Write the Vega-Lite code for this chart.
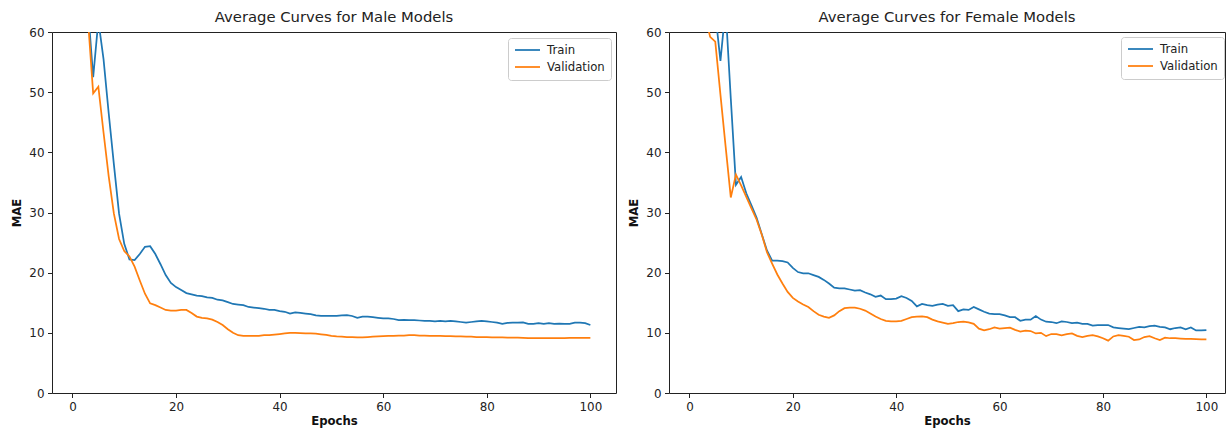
{
 "$schema": "https://vega.github.io/schema/vega-lite/v6.json",
 "background": "white",
 "padding": {"left": 11, "top": 9, "right": 0, "bottom": 0},
 "spacing": 11,
 "config": {
  "font": "DejaVu Sans",
  "view": {"stroke": "#222", "strokeWidth": 1},
  "axis": {"grid": false, "domain": false, "tickColor": "#222", "tickSize": 4.5, "tickWidth": 1, "labelFontSize": 11.9, "labelColor": "#222", "labelPadding": 3.5, "labelFlush": false, "labelOverlap": false, "titleFontSize": 11.7, "titleFontWeight": "bold", "titleColor": "#111"},
  "axisY": {"titlePadding": 6},
  "axisX": {"titlePadding": 4},
  "title": {"fontSize": 14.8, "fontWeight": "normal", "color": "#222", "offset": 1, "anchor": "middle"},
  "legend": {"title": null, "strokeColor": "#ccc", "fillColor": "white", "cornerRadius": 3, "padding": 6, "rowPadding": 4, "labelFontSize": 11.7, "labelColor": "#222", "symbolType": "M-1,0H4", "symbolStrokeWidth": 1.75, "symbolSize": 100, "labelOffset": 21}
 },
 "datasets": {
  "male": [
   {"series":"Train","epoch":1,"mae":95},{"series":"Train","epoch":2,"mae":75},{"series":"Train","epoch":3,"mae":64},{"series":"Train","epoch":4,"mae":52.5},{"series":"Train","epoch":5,"mae":61.9},{"series":"Train","epoch":6,"mae":55.5},{"series":"Train","epoch":7,"mae":46.5},{"series":"Train","epoch":8,"mae":38},{"series":"Train","epoch":9,"mae":29.8},{"series":"Train","epoch":10,"mae":24.8},
   {"series":"Train","epoch":11,"mae":22.2},{"series":"Train","epoch":12,"mae":22.1},{"series":"Train","epoch":13,"mae":23.1},{"series":"Train","epoch":14,"mae":24.3},{"series":"Train","epoch":15,"mae":24.4},{"series":"Train","epoch":16,"mae":23.1},{"series":"Train","epoch":17,"mae":21.4},{"series":"Train","epoch":18,"mae":19.6},{"series":"Train","epoch":19,"mae":18.3},{"series":"Train","epoch":20,"mae":17.6},
   {"series":"Train","epoch":21,"mae":17.1},{"series":"Train","epoch":22,"mae":16.6},{"series":"Train","epoch":23,"mae":16.4},{"series":"Train","epoch":24,"mae":16.2},{"series":"Train","epoch":25,"mae":16.1},{"series":"Train","epoch":26,"mae":15.9},{"series":"Train","epoch":27,"mae":15.8},{"series":"Train","epoch":28,"mae":15.5},{"series":"Train","epoch":29,"mae":15.4},{"series":"Train","epoch":30,"mae":15.1},
   {"series":"Train","epoch":31,"mae":14.8},{"series":"Train","epoch":32,"mae":14.7},{"series":"Train","epoch":33,"mae":14.6},{"series":"Train","epoch":34,"mae":14.3},{"series":"Train","epoch":35,"mae":14.2},{"series":"Train","epoch":36,"mae":14.1},{"series":"Train","epoch":37,"mae":14.0},{"series":"Train","epoch":38,"mae":13.8},{"series":"Train","epoch":39,"mae":13.8},{"series":"Train","epoch":40,"mae":13.6},
   {"series":"Train","epoch":41,"mae":13.5},{"series":"Train","epoch":42,"mae":13.2},{"series":"Train","epoch":43,"mae":13.4},{"series":"Train","epoch":44,"mae":13.3},{"series":"Train","epoch":45,"mae":13.2},{"series":"Train","epoch":46,"mae":13.1},{"series":"Train","epoch":47,"mae":12.9},{"series":"Train","epoch":48,"mae":12.8},{"series":"Train","epoch":49,"mae":12.8},{"series":"Train","epoch":50,"mae":12.8},
   {"series":"Train","epoch":51,"mae":12.8},{"series":"Train","epoch":52,"mae":12.9},{"series":"Train","epoch":53,"mae":12.95},{"series":"Train","epoch":54,"mae":12.8},{"series":"Train","epoch":55,"mae":12.5},{"series":"Train","epoch":56,"mae":12.7},{"series":"Train","epoch":57,"mae":12.7},{"series":"Train","epoch":58,"mae":12.6},{"series":"Train","epoch":59,"mae":12.5},{"series":"Train","epoch":60,"mae":12.4},
   {"series":"Train","epoch":61,"mae":12.4},{"series":"Train","epoch":62,"mae":12.3},{"series":"Train","epoch":63,"mae":12.1},{"series":"Train","epoch":64,"mae":12.15},{"series":"Train","epoch":65,"mae":12.1},{"series":"Train","epoch":66,"mae":12.1},{"series":"Train","epoch":67,"mae":12.05},{"series":"Train","epoch":68,"mae":12.0},{"series":"Train","epoch":69,"mae":12.0},{"series":"Train","epoch":70,"mae":11.9},
   {"series":"Train","epoch":71,"mae":12.0},{"series":"Train","epoch":72,"mae":11.9},{"series":"Train","epoch":73,"mae":12.0},{"series":"Train","epoch":74,"mae":11.9},{"series":"Train","epoch":75,"mae":11.8},{"series":"Train","epoch":76,"mae":11.7},{"series":"Train","epoch":77,"mae":11.8},{"series":"Train","epoch":78,"mae":11.9},{"series":"Train","epoch":79,"mae":12.0},{"series":"Train","epoch":80,"mae":11.9},
   {"series":"Train","epoch":81,"mae":11.8},{"series":"Train","epoch":82,"mae":11.7},{"series":"Train","epoch":83,"mae":11.5},{"series":"Train","epoch":84,"mae":11.65},{"series":"Train","epoch":85,"mae":11.7},{"series":"Train","epoch":86,"mae":11.7},{"series":"Train","epoch":87,"mae":11.75},{"series":"Train","epoch":88,"mae":11.5},{"series":"Train","epoch":89,"mae":11.5},{"series":"Train","epoch":90,"mae":11.6},
   {"series":"Train","epoch":91,"mae":11.5},{"series":"Train","epoch":92,"mae":11.6},{"series":"Train","epoch":93,"mae":11.5},{"series":"Train","epoch":94,"mae":11.55},{"series":"Train","epoch":95,"mae":11.5},{"series":"Train","epoch":96,"mae":11.5},{"series":"Train","epoch":97,"mae":11.7},{"series":"Train","epoch":98,"mae":11.7},{"series":"Train","epoch":99,"mae":11.6},{"series":"Train","epoch":100,"mae":11.3},
   {"series":"Validation","epoch":1,"mae":90},{"series":"Validation","epoch":2,"mae":70},{"series":"Validation","epoch":3,"mae":62},{"series":"Validation","epoch":4,"mae":49.8},{"series":"Validation","epoch":5,"mae":50.9},{"series":"Validation","epoch":6,"mae":43.3},{"series":"Validation","epoch":7,"mae":36},{"series":"Validation","epoch":8,"mae":29.8},{"series":"Validation","epoch":9,"mae":25.6},{"series":"Validation","epoch":10,"mae":23.6},
   {"series":"Validation","epoch":11,"mae":22.7},{"series":"Validation","epoch":12,"mae":21.0},{"series":"Validation","epoch":13,"mae":18.7},{"series":"Validation","epoch":14,"mae":16.5},{"series":"Validation","epoch":15,"mae":14.9},{"series":"Validation","epoch":16,"mae":14.6},{"series":"Validation","epoch":17,"mae":14.2},{"series":"Validation","epoch":18,"mae":13.8},{"series":"Validation","epoch":19,"mae":13.7},{"series":"Validation","epoch":20,"mae":13.7},
   {"series":"Validation","epoch":21,"mae":13.8},{"series":"Validation","epoch":22,"mae":13.8},{"series":"Validation","epoch":23,"mae":13.3},{"series":"Validation","epoch":24,"mae":12.7},{"series":"Validation","epoch":25,"mae":12.5},{"series":"Validation","epoch":26,"mae":12.4},{"series":"Validation","epoch":27,"mae":12.2},{"series":"Validation","epoch":28,"mae":11.8},{"series":"Validation","epoch":29,"mae":11.3},{"series":"Validation","epoch":30,"mae":10.6},
   {"series":"Validation","epoch":31,"mae":10.0},{"series":"Validation","epoch":32,"mae":9.6},{"series":"Validation","epoch":33,"mae":9.5},{"series":"Validation","epoch":34,"mae":9.5},{"series":"Validation","epoch":35,"mae":9.5},{"series":"Validation","epoch":36,"mae":9.5},{"series":"Validation","epoch":37,"mae":9.6},{"series":"Validation","epoch":38,"mae":9.6},{"series":"Validation","epoch":39,"mae":9.7},{"series":"Validation","epoch":40,"mae":9.8},
   {"series":"Validation","epoch":41,"mae":9.9},{"series":"Validation","epoch":42,"mae":10.0},{"series":"Validation","epoch":43,"mae":10.0},{"series":"Validation","epoch":44,"mae":9.95},{"series":"Validation","epoch":45,"mae":9.9},{"series":"Validation","epoch":46,"mae":9.9},{"series":"Validation","epoch":47,"mae":9.85},{"series":"Validation","epoch":48,"mae":9.75},{"series":"Validation","epoch":49,"mae":9.65},{"series":"Validation","epoch":50,"mae":9.5},
   {"series":"Validation","epoch":51,"mae":9.4},{"series":"Validation","epoch":52,"mae":9.35},{"series":"Validation","epoch":53,"mae":9.3},{"series":"Validation","epoch":54,"mae":9.3},{"series":"Validation","epoch":55,"mae":9.25},{"series":"Validation","epoch":56,"mae":9.25},{"series":"Validation","epoch":57,"mae":9.3},{"series":"Validation","epoch":58,"mae":9.35},{"series":"Validation","epoch":59,"mae":9.4},{"series":"Validation","epoch":60,"mae":9.45},
   {"series":"Validation","epoch":61,"mae":9.5},{"series":"Validation","epoch":62,"mae":9.5},{"series":"Validation","epoch":63,"mae":9.55},{"series":"Validation","epoch":64,"mae":9.55},{"series":"Validation","epoch":65,"mae":9.6},{"series":"Validation","epoch":66,"mae":9.6},{"series":"Validation","epoch":67,"mae":9.55},{"series":"Validation","epoch":68,"mae":9.55},{"series":"Validation","epoch":69,"mae":9.5},{"series":"Validation","epoch":70,"mae":9.5},
   {"series":"Validation","epoch":71,"mae":9.5},{"series":"Validation","epoch":72,"mae":9.45},{"series":"Validation","epoch":73,"mae":9.45},{"series":"Validation","epoch":74,"mae":9.4},{"series":"Validation","epoch":75,"mae":9.4},{"series":"Validation","epoch":76,"mae":9.35},{"series":"Validation","epoch":77,"mae":9.35},{"series":"Validation","epoch":78,"mae":9.3},{"series":"Validation","epoch":79,"mae":9.3},{"series":"Validation","epoch":80,"mae":9.3},
   {"series":"Validation","epoch":81,"mae":9.25},{"series":"Validation","epoch":82,"mae":9.25},{"series":"Validation","epoch":83,"mae":9.25},{"series":"Validation","epoch":84,"mae":9.2},{"series":"Validation","epoch":85,"mae":9.2},{"series":"Validation","epoch":86,"mae":9.2},{"series":"Validation","epoch":87,"mae":9.15},{"series":"Validation","epoch":88,"mae":9.1},{"series":"Validation","epoch":89,"mae":9.1},{"series":"Validation","epoch":90,"mae":9.1},
   {"series":"Validation","epoch":91,"mae":9.1},{"series":"Validation","epoch":92,"mae":9.1},{"series":"Validation","epoch":93,"mae":9.1},{"series":"Validation","epoch":94,"mae":9.1},{"series":"Validation","epoch":95,"mae":9.1},{"series":"Validation","epoch":96,"mae":9.15},{"series":"Validation","epoch":97,"mae":9.15},{"series":"Validation","epoch":98,"mae":9.15},{"series":"Validation","epoch":99,"mae":9.15},{"series":"Validation","epoch":100,"mae":9.15}
  ],
  "female": [
   {"series":"Train","epoch":1,"mae":100},{"series":"Train","epoch":2,"mae":85},{"series":"Train","epoch":3,"mae":72},{"series":"Train","epoch":4,"mae":66},{"series":"Train","epoch":5,"mae":63.2},{"series":"Train","epoch":6,"mae":55.2},{"series":"Train","epoch":7,"mae":64},{"series":"Train","epoch":8,"mae":49},{"series":"Train","epoch":9,"mae":34.6},{"series":"Train","epoch":10,"mae":35.9},
   {"series":"Train","epoch":11,"mae":33.2},{"series":"Train","epoch":12,"mae":31.2},{"series":"Train","epoch":13,"mae":29.1},{"series":"Train","epoch":14,"mae":26.4},{"series":"Train","epoch":15,"mae":23.7},{"series":"Train","epoch":16,"mae":22.0},{"series":"Train","epoch":17,"mae":22.0},{"series":"Train","epoch":18,"mae":21.9},{"series":"Train","epoch":19,"mae":21.7},{"series":"Train","epoch":20,"mae":20.8},
   {"series":"Train","epoch":21,"mae":20.1},{"series":"Train","epoch":22,"mae":19.9},{"series":"Train","epoch":23,"mae":19.9},{"series":"Train","epoch":24,"mae":19.6},{"series":"Train","epoch":25,"mae":19.3},{"series":"Train","epoch":26,"mae":18.8},{"series":"Train","epoch":27,"mae":18.2},{"series":"Train","epoch":28,"mae":17.5},{"series":"Train","epoch":29,"mae":17.4},{"series":"Train","epoch":30,"mae":17.4},
   {"series":"Train","epoch":31,"mae":17.2},{"series":"Train","epoch":32,"mae":17.0},{"series":"Train","epoch":33,"mae":17.1},{"series":"Train","epoch":34,"mae":16.7},{"series":"Train","epoch":35,"mae":16.4},{"series":"Train","epoch":36,"mae":16.0},{"series":"Train","epoch":37,"mae":16.2},{"series":"Train","epoch":38,"mae":15.6},{"series":"Train","epoch":39,"mae":15.6},{"series":"Train","epoch":40,"mae":15.7},
   {"series":"Train","epoch":41,"mae":16.1},{"series":"Train","epoch":42,"mae":15.8},{"series":"Train","epoch":43,"mae":15.3},{"series":"Train","epoch":44,"mae":14.4},{"series":"Train","epoch":45,"mae":14.8},{"series":"Train","epoch":46,"mae":14.6},{"series":"Train","epoch":47,"mae":14.5},{"series":"Train","epoch":48,"mae":14.7},{"series":"Train","epoch":49,"mae":14.8},{"series":"Train","epoch":50,"mae":14.5},
   {"series":"Train","epoch":51,"mae":14.6},{"series":"Train","epoch":52,"mae":13.6},{"series":"Train","epoch":53,"mae":13.9},{"series":"Train","epoch":54,"mae":13.8},{"series":"Train","epoch":55,"mae":14.3},{"series":"Train","epoch":56,"mae":13.9},{"series":"Train","epoch":57,"mae":13.5},{"series":"Train","epoch":58,"mae":13.2},{"series":"Train","epoch":59,"mae":13.1},{"series":"Train","epoch":60,"mae":13.1},
   {"series":"Train","epoch":61,"mae":12.9},{"series":"Train","epoch":62,"mae":12.6},{"series":"Train","epoch":63,"mae":12.6},{"series":"Train","epoch":64,"mae":12.0},{"series":"Train","epoch":65,"mae":12.2},{"series":"Train","epoch":66,"mae":12.2},{"series":"Train","epoch":67,"mae":12.8},{"series":"Train","epoch":68,"mae":12.2},{"series":"Train","epoch":69,"mae":11.85},{"series":"Train","epoch":70,"mae":11.8},
   {"series":"Train","epoch":71,"mae":11.6},{"series":"Train","epoch":72,"mae":11.9},{"series":"Train","epoch":73,"mae":11.8},{"series":"Train","epoch":74,"mae":11.6},{"series":"Train","epoch":75,"mae":11.7},{"series":"Train","epoch":76,"mae":11.5},{"series":"Train","epoch":77,"mae":11.5},{"series":"Train","epoch":78,"mae":11.2},{"series":"Train","epoch":79,"mae":11.3},{"series":"Train","epoch":80,"mae":11.3},
   {"series":"Train","epoch":81,"mae":11.3},{"series":"Train","epoch":82,"mae":10.9},{"series":"Train","epoch":83,"mae":10.8},{"series":"Train","epoch":84,"mae":10.7},{"series":"Train","epoch":85,"mae":10.6},{"series":"Train","epoch":86,"mae":10.8},{"series":"Train","epoch":87,"mae":11.0},{"series":"Train","epoch":88,"mae":10.9},{"series":"Train","epoch":89,"mae":11.1},{"series":"Train","epoch":90,"mae":11.2},
   {"series":"Train","epoch":91,"mae":11.0},{"series":"Train","epoch":92,"mae":10.9},{"series":"Train","epoch":93,"mae":10.6},{"series":"Train","epoch":94,"mae":10.8},{"series":"Train","epoch":95,"mae":10.9},{"series":"Train","epoch":96,"mae":10.6},{"series":"Train","epoch":97,"mae":10.9},{"series":"Train","epoch":98,"mae":10.4},{"series":"Train","epoch":99,"mae":10.4},{"series":"Train","epoch":100,"mae":10.45},
   {"series":"Validation","epoch":1,"mae":90},{"series":"Validation","epoch":2,"mae":75},{"series":"Validation","epoch":3,"mae":63},{"series":"Validation","epoch":4,"mae":59.2},{"series":"Validation","epoch":5,"mae":58.4},{"series":"Validation","epoch":6,"mae":49.6},{"series":"Validation","epoch":7,"mae":41},{"series":"Validation","epoch":8,"mae":32.5},{"series":"Validation","epoch":9,"mae":36.3},{"series":"Validation","epoch":10,"mae":34.5},
   {"series":"Validation","epoch":11,"mae":32.6},{"series":"Validation","epoch":12,"mae":30.7},{"series":"Validation","epoch":13,"mae":28.8},{"series":"Validation","epoch":14,"mae":26.3},{"series":"Validation","epoch":15,"mae":23.4},{"series":"Validation","epoch":16,"mae":21.5},{"series":"Validation","epoch":17,"mae":19.7},{"series":"Validation","epoch":18,"mae":18.2},{"series":"Validation","epoch":19,"mae":16.8},{"series":"Validation","epoch":20,"mae":15.8},
   {"series":"Validation","epoch":21,"mae":15.2},{"series":"Validation","epoch":22,"mae":14.7},{"series":"Validation","epoch":23,"mae":14.3},{"series":"Validation","epoch":24,"mae":13.6},{"series":"Validation","epoch":25,"mae":13.0},{"series":"Validation","epoch":26,"mae":12.7},{"series":"Validation","epoch":27,"mae":12.5},{"series":"Validation","epoch":28,"mae":12.9},{"series":"Validation","epoch":29,"mae":13.6},{"series":"Validation","epoch":30,"mae":14.1},
   {"series":"Validation","epoch":31,"mae":14.2},{"series":"Validation","epoch":32,"mae":14.2},{"series":"Validation","epoch":33,"mae":14.0},{"series":"Validation","epoch":34,"mae":13.7},{"series":"Validation","epoch":35,"mae":13.2},{"series":"Validation","epoch":36,"mae":12.7},{"series":"Validation","epoch":37,"mae":12.3},{"series":"Validation","epoch":38,"mae":12.0},{"series":"Validation","epoch":39,"mae":11.9},{"series":"Validation","epoch":40,"mae":11.9},
   {"series":"Validation","epoch":41,"mae":12.0},{"series":"Validation","epoch":42,"mae":12.3},{"series":"Validation","epoch":43,"mae":12.6},{"series":"Validation","epoch":44,"mae":12.7},{"series":"Validation","epoch":45,"mae":12.75},{"series":"Validation","epoch":46,"mae":12.6},{"series":"Validation","epoch":47,"mae":12.2},{"series":"Validation","epoch":48,"mae":11.9},{"series":"Validation","epoch":49,"mae":11.7},{"series":"Validation","epoch":50,"mae":11.5},
   {"series":"Validation","epoch":51,"mae":11.6},{"series":"Validation","epoch":52,"mae":11.8},{"series":"Validation","epoch":53,"mae":11.85},{"series":"Validation","epoch":54,"mae":11.75},{"series":"Validation","epoch":55,"mae":11.5},{"series":"Validation","epoch":56,"mae":10.7},{"series":"Validation","epoch":57,"mae":10.4},{"series":"Validation","epoch":58,"mae":10.6},{"series":"Validation","epoch":59,"mae":10.9},{"series":"Validation","epoch":60,"mae":10.7},
   {"series":"Validation","epoch":61,"mae":10.8},{"series":"Validation","epoch":62,"mae":10.85},{"series":"Validation","epoch":63,"mae":10.5},{"series":"Validation","epoch":64,"mae":10.2},{"series":"Validation","epoch":65,"mae":10.35},{"series":"Validation","epoch":66,"mae":10.3},{"series":"Validation","epoch":67,"mae":9.9},{"series":"Validation","epoch":68,"mae":10.0},{"series":"Validation","epoch":69,"mae":9.45},{"series":"Validation","epoch":70,"mae":9.8},
   {"series":"Validation","epoch":71,"mae":9.8},{"series":"Validation","epoch":72,"mae":9.6},{"series":"Validation","epoch":73,"mae":9.8},{"series":"Validation","epoch":74,"mae":9.9},{"series":"Validation","epoch":75,"mae":9.5},{"series":"Validation","epoch":76,"mae":9.3},{"series":"Validation","epoch":77,"mae":9.5},{"series":"Validation","epoch":78,"mae":9.6},{"series":"Validation","epoch":79,"mae":9.4},{"series":"Validation","epoch":80,"mae":9.1},
   {"series":"Validation","epoch":81,"mae":8.7},{"series":"Validation","epoch":82,"mae":9.4},{"series":"Validation","epoch":83,"mae":9.6},{"series":"Validation","epoch":84,"mae":9.5},{"series":"Validation","epoch":85,"mae":9.35},{"series":"Validation","epoch":86,"mae":8.8},{"series":"Validation","epoch":87,"mae":8.9},{"series":"Validation","epoch":88,"mae":9.3},{"series":"Validation","epoch":89,"mae":9.45},{"series":"Validation","epoch":90,"mae":9.1},
   {"series":"Validation","epoch":91,"mae":8.8},{"series":"Validation","epoch":92,"mae":9.2},{"series":"Validation","epoch":93,"mae":9.1},{"series":"Validation","epoch":94,"mae":9.1},{"series":"Validation","epoch":95,"mae":9.05},{"series":"Validation","epoch":96,"mae":9.0},{"series":"Validation","epoch":97,"mae":9.0},{"series":"Validation","epoch":98,"mae":8.95},{"series":"Validation","epoch":99,"mae":8.9},{"series":"Validation","epoch":100,"mae":8.9}
  ]
 },
 "hconcat": [
  {
   "title": "Average Curves for Male Models",
   "width": 564,
   "height": 361,
   "data": {"name": "male"},
   "mark": {"type": "line", "clip": true, "strokeWidth": 1.75},
   "encoding": {
    "x": {"field": "epoch", "type": "quantitative", "title": "Epochs", "scale": {"domain": [-3.95, 104.95], "nice": false, "zero": false}, "axis": {"values": [0, 20, 40, 60, 80, 100]}},
    "y": {"field": "mae", "type": "quantitative", "title": "MAE", "scale": {"domain": [0, 60], "nice": false}, "axis": {"values": [0, 10, 20, 30, 40, 50, 60]}},
    "color": {"field": "series", "type": "nominal", "scale": {"domain": ["Train", "Validation"], "range": ["#1f77b4", "#ff7f0e"]}, "legend": {"orient": "top-right", "offset": 5.5}}
   }
  },
  {
   "title": "Average Curves for Female Models",
   "width": 556,
   "height": 361,
   "data": {"name": "female"},
   "mark": {"type": "line", "clip": true, "strokeWidth": 1.75},
   "encoding": {
    "x": {"field": "epoch", "type": "quantitative", "title": "Epochs", "scale": {"domain": [-3.95, 103.6], "nice": false, "zero": false}, "axis": {"values": [0, 20, 40, 60, 80, 100]}},
    "y": {"field": "mae", "type": "quantitative", "title": "MAE", "scale": {"domain": [0, 60], "nice": false}, "axis": {"values": [0, 10, 20, 30, 40, 50, 60]}},
    "color": {"field": "series", "type": "nominal", "scale": {"domain": ["Train", "Validation"], "range": ["#1f77b4", "#ff7f0e"]}, "legend": {"orient": "none", "legendX": 452, "legendY": 5}}
   }
  }
 ],
 "resolve": {"scale": {"color": "independent", "x": "independent", "y": "independent"}, "legend": {"color": "independent"}}
}
